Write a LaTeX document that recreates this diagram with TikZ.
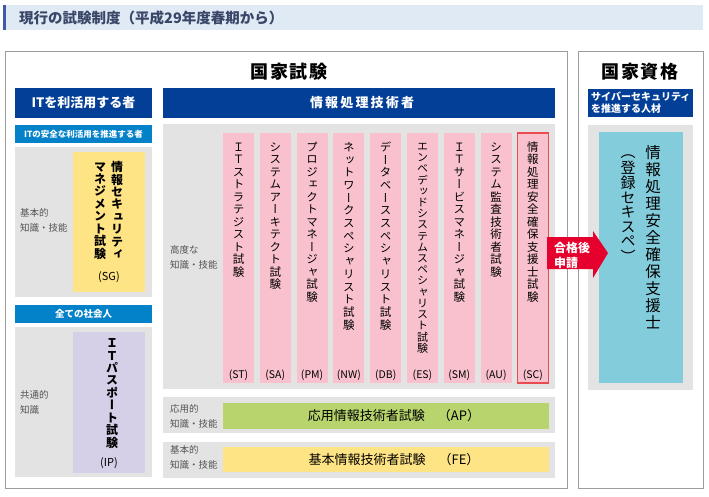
\documentclass[tikz,border=0pt]{standalone}
\usepackage{fontspec}
\setmainfont{Noto Sans CJK JP}
\newfontfamily\vfont[RawFeature=+vert]{Noto Sans CJK JP}
\definecolor{titlebg}{HTML}{DFEAF4}
\definecolor{titlestrip}{HTML}{3F5AA8}
\definecolor{titletext}{HTML}{3A4668}
\definecolor{navy}{HTML}{033F96}
\definecolor{skyblue}{HTML}{0382CA}
\definecolor{panel}{HTML}{E3E3E3}
\definecolor{pinkc}{HTML}{F8C1CD}
\definecolor{scred}{HTML}{E94B50}
\definecolor{yellowc}{HTML}{FFE485}
\definecolor{lavender}{HTML}{D5CFE7}
\definecolor{greenc}{HTML}{B7D46D}
\definecolor{cyanc}{HTML}{83CCDC}
\definecolor{arrowred}{HTML}{E5002E}
\definecolor{boxgray}{HTML}{9C9C9C}
\definecolor{lblgray}{HTML}{555555}
\newlength\vtpitch
\def\vtend{}
\def\vtloop#1{\ifx#1\vtend\else\hbox to 1em{\vrule height .8\vtpitch depth .2\vtpitch width 0pt\hss#1\hss}\expandafter\vtloop\fi}
\newcommand\vcol[2]{\vbox{\offinterlineskip\setlength\vtpitch{#1}\edef\vttmp{#2}\expandafter\vtloop\vttmp\vtend}}
\newcommand\bx[6][]{\node[inner sep=0,outer sep=0,anchor=north west,minimum width={(#5-#3)*1pt},minimum height={(#6-#4)*1pt},#1] (#2) at (#3,#4) {};}
\tikzset{
  hdr/.style={text=white,font=\fontsize{13}{13}\selectfont\bfseries,inner sep=0},
  subhdr/.style={text=white,inner sep=0},
  lbl/.style={text=lblgray,anchor=west,align=left,inner sep=0,font=\fontsize{9.5}{15}\selectfont},
  bigttl/.style={font=\fontsize{18}{18}\selectfont\bfseries,inner sep=0},
}
\begin{document}
\begin{tikzpicture}[x=1pt,y=-1pt]
\useasboundingbox (0,0) rectangle (709,497);
\fill[white] (0,0) rectangle (709,497);
% title bar
\bx[fill=titlebg]{tbar}{3}{5}{703}{30}
\bx[fill=titlestrip]{tstrip}{3}{5}{6}{30}
\node[anchor=west,inner sep=0,text=titletext,font=\fontsize{14.5}{14.5}\selectfont\bfseries] (ttl) at (19,17.5) {現行の試験制度（平成29年度春期から）};
% outer boxes
\bx[draw=boxgray,line width=1pt]{kshiken}{5}{52}{567}{488}
\bx[draw=boxgray,line width=1pt]{kshikaku}{578}{52}{703}{488}
\node[bigttl] (tk1) at (289,72) {国\kern1.5pt 家\kern1.5pt 試\kern1.5pt 験};
\node[bigttl] (tk2) at (640,72) {国\kern1.5pt 家\kern1.5pt 資\kern1.5pt 格};
% headers
\bx[fill=navy]{h1}{15}{88}{152}{118}
\node[hdr] (h1t) at (h1.center) {ITを利活用する者};
\bx[fill=navy]{h2}{163}{88}{555}{118}
\node[hdr] (h2t) at (362,103) {情\,報\,処\,理\,技\,術\,者};
% left column
\bx[fill=skyblue]{b1}{15}{125}{152}{143}
\node[subhdr,font=\fontsize{8.5}{8.5}\selectfont\bfseries] (b1t) at (b1.center) {ITの安全な利活用を推進する者};
\bx[fill=panel]{p1}{15}{147}{152}{297}
\bx[fill=yellowc]{sg}{73}{152}{145}{292}
\node[anchor=north,inner sep=0] (sg1) at (117,161) {\vfont\bfseries\fontsize{12}{12}\selectfont\vcol{12.4pt}{情報セキュリティ}};
\node[anchor=north,inner sep=0] (sg2) at (100,161) {\vfont\bfseries\fontsize{12}{12}\selectfont\vcol{12.4pt}{マネジメント試験}};
\node[inner sep=0,font=\fontsize{11}{11}\selectfont] (sgl) at (109,277) {(SG)};
\node[lbl] (p1l) at (20,220.5) {基本的\\知識・技能};
\bx[fill=skyblue]{b2}{15}{305}{152}{323}
\node[subhdr,font=\fontsize{9.5}{9.5}\selectfont\bfseries] (b2t) at (b2.center) {全ての社会人};
\bx[fill=panel]{p2}{15}{327}{152}{477}
\bx[fill=lavender]{ip}{73}{332}{145}{473}
\node[anchor=north,inner sep=0] (ip1) at (112,338) {\vfont\bfseries\fontsize{12}{12}\selectfont\vcol{12.2pt}{ＩＴパスポート試験}};
\node[inner sep=0,font=\fontsize{11}{11}\selectfont] (ipl) at (109,463) {(IP)};
\node[lbl] (p2l) at (20,402.5) {共通的\\知識};
% advanced panel
\bx[fill=panel]{padv}{163}{124}{555}{389}
\node[lbl] (padvl) at (170,257.5) {高度な\\知識・技能};
\foreach \i/\ab/\tx/\p/\fs in {0/ST/ＩＴストラテジスト試験/12.5/11.5,
  1/SA/システムアーキテクト試験/12.5/11.5,
  2/PM/プロジェクトマネージャ試験/12.5/11.5,
  3/NW/ネットワークスペシャリスト試験/12.7/11.5,
  4/DB/データベーススペシャリスト試験/12.7/11.5,
  5/ES/エンベデッドシステムスペシャリスト試験/11.2/11,
  6/SM/ＩＴサービスマネージャ試験/12.5/11.5,
  7/AU/システム監査技術者試験/12.5/11.5,
  8/SC/情報処理安全確保支援士試験/12.5/11.5}{
  \pgfmathsetmacro\cl{223+36.8*\i}
  \bx[fill=pinkc]{c\ab}{\cl}{133}{\cl+31}{383}
  \node[anchor=north,inner sep=0] (t\ab) at ([yshift=-8pt]c\ab.north) {\vfont\fontsize{\fs}{\fs}\selectfont\vcol{\p pt}{\tx}};
  \node[inner sep=0,font=\fontsize{10.5}{10.5}\selectfont] (l\ab) at ([yshift=8pt]c\ab.south) {(\ab)};
}
\draw[scred,line width=1.2pt] (cSC.north west) rectangle (cSC.south east);
% AP
\bx[fill=panel]{pap}{163}{397}{555}{433}
\bx[fill=greenc]{ap}{223}{403}{549}{429}
\node[inner sep=0,font=\fontsize{13}{13}\selectfont] (apt) at (394,416) {応用情報技術者試験　（AP）};
\node[lbl] (papl) at (170,416.5) {応用的\\知識・技能};
% FE
\bx[fill=panel]{pfe}{163}{442}{555}{478}
\bx[fill=yellowc]{fe}{223}{447}{549}{472}
\node[inner sep=0,font=\fontsize{13}{13}\selectfont] (fet) at (394,460) {基本情報技術者試験　（FE）};
\node[lbl] (pfel) at (170,457.5) {基本的\\知識・技能};
% right
\bx[fill=navy]{h3}{588}{89}{693}{117}
\node[anchor=west,inner sep=0,align=left,text=white,font=\fontsize{10}{12}\selectfont\bfseries] (h3t) at (591,103) {サイバーセキュリティ\\を推進する人材};
\bx[fill=panel]{p3}{588}{125}{693}{390}
\bx[fill=cyanc]{sc2}{599}{132}{683}{383}
\node[anchor=north,inner sep=0] (q1) at (653,145) {\vfont\fontsize{15.5}{15.5}\selectfont\vcol{17pt}{情報処理安全確保支援士}};
\node[anchor=north,inner sep=0] (q2) at (628,146) {\vfont\fontsize{15}{15}\selectfont\vcol{14.5pt}{（登録セキスペ）}};
% arrow
\fill[arrowred] (547,237) -- (593,237) -- (593,231) -- (608,253) -- (593,278) -- (593,269) -- (547,269) -- cycle;
\node[anchor=west,inner sep=0,align=left,text=white,font=\fontsize{12}{15}\selectfont\bfseries] (arrt) at (554,255) {合格後\\申請};
\end{tikzpicture}
\end{document}
